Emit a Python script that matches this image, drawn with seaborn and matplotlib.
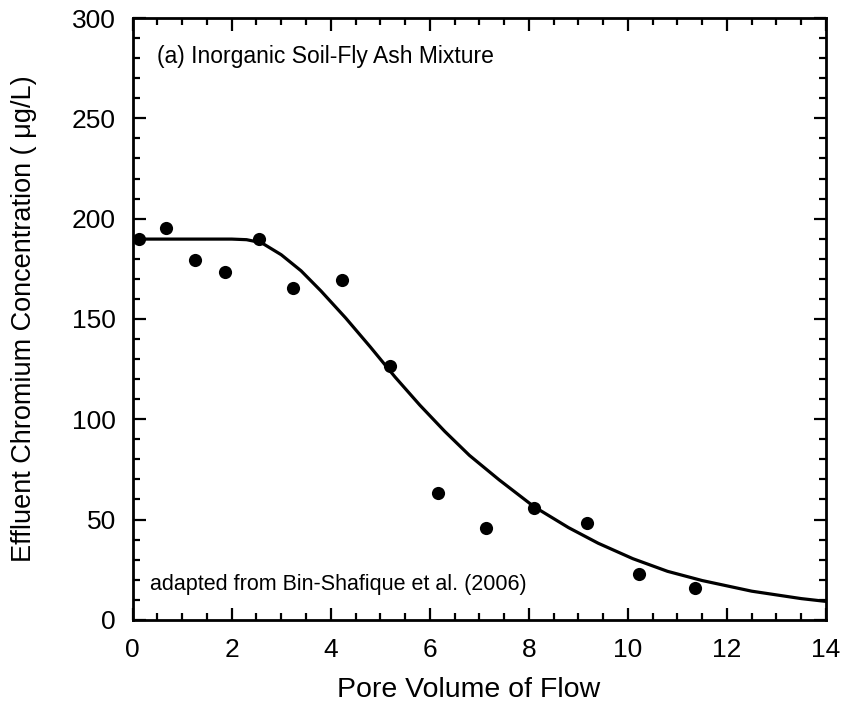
import matplotlib
matplotlib.use("Agg")
import matplotlib.pyplot as plt
import seaborn as sns
import pandas as pd
from matplotlib.ticker import MultipleLocator

# Measured data
pore_volume = [0.13, 0.68, 1.25, 1.86, 2.55, 3.24, 4.22, 5.19, 6.17, 7.13, 8.11, 9.17, 10.22, 11.36]
chromium = [189.8, 195.2, 179.4, 173.5, 189.7, 165.6, 169.4, 126.6, 63.4, 45.8, 55.8, 48.5, 23.1, 16.0]

# Fitted curve
fit_x = [0.0, 2.0, 2.3, 2.6, 3.0, 3.4, 3.8, 4.3, 4.8, 5.3, 5.8, 6.3, 6.8, 7.4,
         8.1, 8.8, 9.4, 10.1, 10.8, 11.5, 12.5, 13.5, 14.0]
fit_y = [189.8, 189.8, 189.5, 188.0, 182.0, 174.0, 164.0, 150.5, 136.0, 121.0, 107.0, 94.0, 82.0, 69.8,
         56.5, 46.0, 38.2, 30.5, 24.2, 19.6, 14.3, 10.6, 9.2]

sns.set_style("ticks")
plt.rcParams["font.family"] = ["Liberation Sans", "DejaVu Sans"]
plt.rcParams["text.color"] = "black"
plt.rcParams["axes.labelcolor"] = "black"

fig = plt.figure(figsize=(8.45, 7.06), dpi=100)
ax = fig.add_axes([0.157, 0.122, 0.8205, 0.8525])

df_pts = pd.DataFrame({"x": pore_volume, "y": chromium})
df_fit = pd.DataFrame({"x": fit_x, "y": fit_y})

sns.lineplot(data=df_fit, x="x", y="y", ax=ax, color="black", linewidth=2.3, sort=False)
sns.scatterplot(data=df_pts, x="x", y="y", ax=ax, color="black", s=90, edgecolor="black",
                linewidth=0, zorder=5)

ax.set_xlim(0, 14)
ax.set_ylim(0, 300)
ax.xaxis.set_major_locator(MultipleLocator(2))
ax.xaxis.set_minor_locator(MultipleLocator(0.5))
ax.yaxis.set_major_locator(MultipleLocator(50))
ax.yaxis.set_minor_locator(MultipleLocator(10))
ax.tick_params(which="both", direction="in", top=True, right=True, width=1.6, colors="black")
ax.tick_params(which="major", length=9, labelsize=19)
ax.tick_params(axis="x", which="major", pad=13)
ax.tick_params(axis="y", which="major", pad=12)
ax.tick_params(which="minor", length=5)
for s in ax.spines.values():
    s.set_visible(True)
    s.set_linewidth(2)
    s.set_color("black")

ax.set_xlabel("Pore Volume of Flow", fontsize=20.5, va="center", color="black")
ax.xaxis.set_label_coords(0.485, -0.116)
ax.set_ylabel("Effluent Chromium Concentration ( \u03bcg/L)", fontsize=19.5, va="center", color="black")
ax.yaxis.set_label_coords(-0.157, 0.5)

ax.text(0.5, 281, "(a) Inorganic Soil-Fly Ash Mixture", fontsize=16.5, va="center", ha="left", color="black")
ax.text(0.34, 17.4, "adapted from Bin-Shafique et al. (2006)", fontsize=15.5, va="center", ha="left", color="black")

fig.savefig("out.png", dpi=100)
